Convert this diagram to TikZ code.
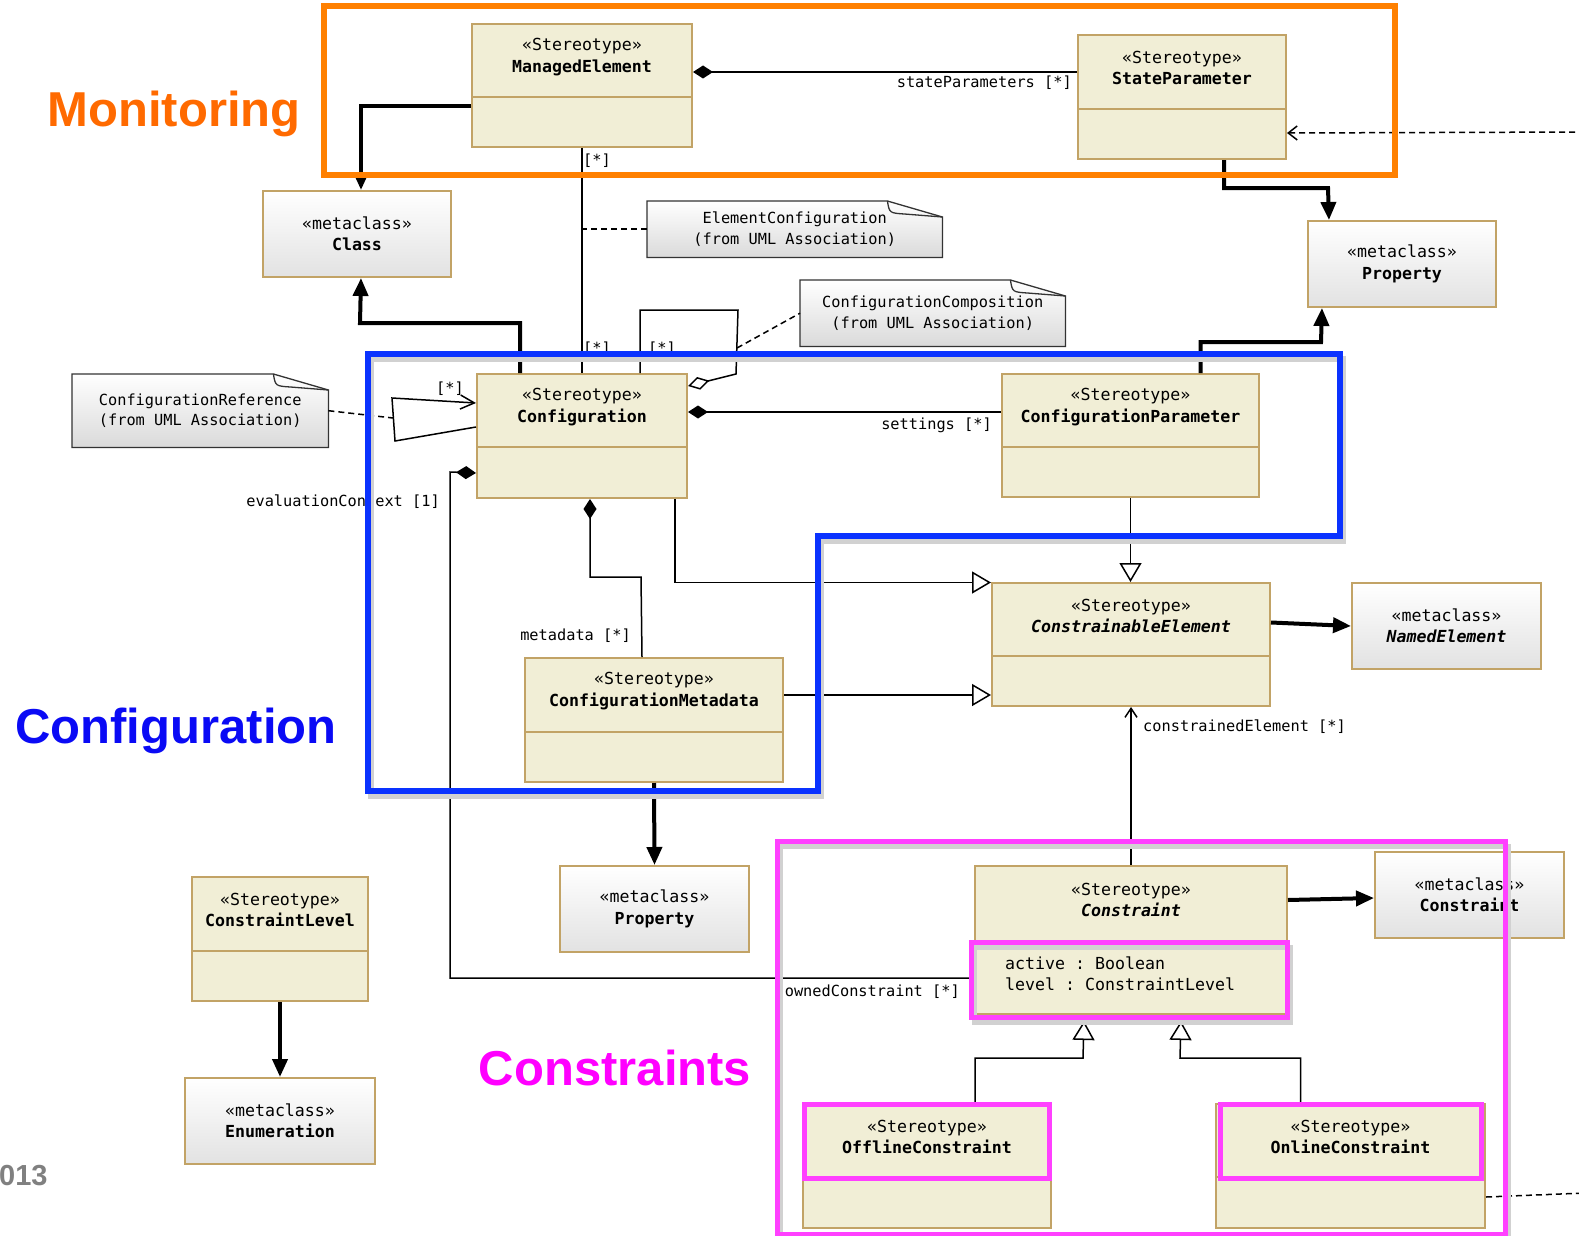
\documentclass[tikz,border=0pt]{standalone}
\usepackage{fontspec}
\setmainfont{Liberation Sans}
\setmonofont{DejaVu Sans Mono}
\usetikzlibrary{arrows.meta,backgrounds}
\definecolor{stfill}{HTML}{F1EED6}
\definecolor{boxline}{HTML}{C2A366}
\definecolor{metagray}{HTML}{E2E2E2}
\definecolor{notegray}{HTML}{DADADA}
\definecolor{monorange}{HTML}{FF8000}
\definecolor{montext}{HTML}{FF6A00}
\definecolor{cfgblue}{HTML}{0A32FF}
\definecolor{cfgtext}{HTML}{0A0AF5}
\definecolor{conmag}{HTML}{FF40FF}
\definecolor{context}{HTML}{FF00FF}
\newcommand{\umlfont}{\fontsize{16.6}{21.5}\selectfont\ttfamily}
\newcommand{\lblfont}{\fontsize{15.3}{20.5}\selectfont\ttfamily}

\begin{document}
\begin{tikzpicture}[x=1pt,y=-1pt,
  stereo/.style={draw=boxline,fill=stfill,line width=2pt,inner sep=0pt,anchor=north west},
  meta/.style={draw=boxline,top color=white,bottom color=metagray,line width=2pt,inner sep=0pt,anchor=north west,font=\umlfont,align=center},
  div/.style={draw=boxline,line width=2pt},
  boxtxt/.style={font=\umlfont,align=center,inner sep=0pt},
  notetxt/.style={font=\lblfont,align=center,inner sep=0pt,anchor=north west},
  notebox/.style={draw=black!80,line width=1.3pt,top color=white,bottom color=notegray},
  lbl/.style={font=\lblfont,inner sep=0pt},
  conn/.style={line width=1.5pt},
  metaarrow/.style={line width=4pt,-{Triangle[length=18pt,width=15pt]}},
  compo/.style={conn,{Diamond[length=20pt,width=13pt]}-},
  aggr/.style={conn,-{Diamond[length=22pt,width=13pt,fill=white]}},
  gen/.style={conn,-{Triangle[length=19pt,width=22pt,fill=white]}},
  nav/.style={conn,-{Straight Barb[length=9pt,width=12pt]}},
  notelink/.style={conn,dash pattern=on 6pt off 4pt},
  dep/.style={notelink,-{Straight Barb[length=9pt,width=14pt]}},
  frame/.style={line width=6pt,line join=miter},
  shade/.style={line width=6pt,draw=black!18,shift={(3,5)}},
  title/.style={font=\fontsize{49}{53}\selectfont\bfseries,inner sep=0pt,anchor=base}]
\useasboundingbox (0,0) rectangle (1579,1236);

% notes
\node[notetxt,minimum width=295pt,minimum height=56pt] (nelem) at (647,201) {ElementConfiguration\\(from UML Association)};
\node[notetxt,minimum width=265pt,minimum height=66pt] (ncomp) at (800,280) {ConfigurationComposition\\(from UML Association)};
\node[notetxt,minimum width=256pt,minimum height=73pt] (nref) at (72,374) {ConfigurationReference\\(from UML Association)};
\begin{scope}[on background layer]
\fill[white] (0,0) rectangle (1579,1236);
\foreach \n in {nelem,ncomp,nref} {
  \draw[notebox] (\n.south west) -- (\n.north west) -- ([xshift=-55pt]\n.north east) -- ([yshift=-16pt]\n.north east) -- (\n.south east) -- cycle;
  \draw[line width=1.3pt,black!80] ([xshift=-55pt]\n.north east) .. controls ([xshift=-53pt,yshift=-12pt]\n.north east) .. ([xshift=-38pt,yshift=-13pt]\n.north east) -- ([yshift=-16pt]\n.north east);
}
\end{scope}

% stereotypes
\node[stereo,minimum width=220pt,minimum height=123pt] (me) at (471,23) {};
\draw[div] ([yshift=-74pt]me.north west) -- ([yshift=-74pt]me.north east);
\node[boxtxt] (me-t) at ([yshift=-34pt]me.north) {«Stereotype»\\\textbf{ManagedElement}};
\node[stereo,minimum width=208pt,minimum height=124pt] (sp) at (1077,34) {};
\draw[div] ([yshift=-75pt]sp.north west) -- ([yshift=-75pt]sp.north east);
\node[boxtxt] (sp-t) at ([yshift=-34pt]sp.north) {«Stereotype»\\\textbf{StateParameter}};
\node[stereo,minimum width=210pt,minimum height=124pt] (cfg) at (476,373) {};
\draw[div] ([yshift=-74pt]cfg.north west) -- ([yshift=-74pt]cfg.north east);
\node[boxtxt] (cfg-t) at ([yshift=-34pt]cfg.north) {«Stereotype»\\\textbf{Configuration}};
\node[stereo,minimum width=257pt,minimum height=123pt] (cpar) at (1001,373) {};
\draw[div] ([yshift=-74pt]cpar.north west) -- ([yshift=-74pt]cpar.north east);
\node[boxtxt] (cpar-t) at ([yshift=-34pt]cpar.north) {«Stereotype»\\\textbf{ConfigurationParameter}};
\node[stereo,minimum width=278pt,minimum height=123pt] (cel) at (991,582) {};
\draw[div] ([yshift=-74pt]cel.north west) -- ([yshift=-74pt]cel.north east);
\node[boxtxt] (cel-t) at ([yshift=-34pt]cel.north) {«Stereotype»\\\textbf{\textit{ConstrainableElement}}};
\node[stereo,minimum width=258pt,minimum height=124pt] (mdata) at (524,657) {};
\draw[div] ([yshift=-75pt]mdata.north west) -- ([yshift=-75pt]mdata.north east);
\node[boxtxt] (mdata-t) at ([yshift=-34pt]mdata.north) {«Stereotype»\\\textbf{ConfigurationMetadata}};
\node[stereo,minimum width=176pt,minimum height=124pt] (clevel) at (191,876) {};
\draw[div] ([yshift=-75pt]clevel.north west) -- ([yshift=-75pt]clevel.north east);
\node[boxtxt] (clevel-t) at ([yshift=-34pt]clevel.north) {«Stereotype»\\\textbf{ConstraintLevel}};
\node[stereo,minimum width=312pt,minimum height=148pt] (cons) at (974,865) {};
\draw[div] ([yshift=-76pt]cons.north west) -- ([yshift=-76pt]cons.north east);
\node[boxtxt] (cons-t) at ([yshift=-35pt]cons.north) {«Stereotype»\\\textbf{\textit{Constraint}}};
\node[boxtxt,align=left,anchor=west] (cons-a) at (1005,974) {active : Boolean\\level : ConstraintLevel};
\node[stereo,minimum width=248pt,minimum height=124pt] (off) at (802,1103) {};
\draw[div] ([yshift=-74pt]off.north west) -- ([yshift=-74pt]off.north east);
\node[boxtxt] (off-t) at ([yshift=-34pt]off.north) {«Stereotype»\\\textbf{OfflineConstraint}};
\node[stereo,minimum width=269pt,minimum height=124pt] (on) at (1215,1103) {};
\draw[div] ([yshift=-74pt]on.north west) -- ([yshift=-74pt]on.north east);
\node[boxtxt] (on-t) at ([yshift=-34pt]on.north) {«Stereotype»\\\textbf{OnlineConstraint}};

% metaclasses
\node[meta,minimum width=188pt,minimum height=86pt] (cls) at (262,190) {«metaclass»\\\textbf{Class}};
\node[meta,minimum width=188pt,minimum height=86pt] (prop1) at (1307,220) {«metaclass»\\\textbf{Property}};
\node[meta,minimum width=189pt,minimum height=86pt] (named) at (1351,582) {«metaclass»\\\textbf{\textit{NamedElement}}};
\node[meta,minimum width=189pt,minimum height=86pt] (prop2) at (559,865) {«metaclass»\\\textbf{Property}};
\node[meta,minimum width=190pt,minimum height=86pt] (enum) at (184,1077) {«metaclass»\\\textbf{Enumeration}};
\node[meta,minimum width=189pt,minimum height=86pt] (mcons) at (1374,851) {«metaclass»\\\textbf{Constraint}};

% connectors
\draw[metaarrow] ([yshift=-21pt]me.west) -| ([xshift=4pt]cls.north);
\draw[compo] ([yshift=13.5pt]me.east) coordinate (me-r) -- (me-r -| sp.west);
\node[lbl,anchor=north east] (l-state) at (1072,76) {stateParameters [*]};
\draw[conn] (me.south) -- (cfg.north);
\node[lbl,anchor=west] (l-me1) at (583,161) {[*]};
\node[lbl,anchor=west] (l-me2) at (583,349) {[*]};
\draw[notelink] (nelem.west) -- (nelem.west -| me.south);
\draw[aggr] ([xshift=58pt]cfg.north) |- (738,310) -- (736,374) -- ([yshift=-13pt]cfg.north east);
\node[lbl,anchor=west] (l-self) at (648,349) {[*]};
\draw[notelink] (737,348) -- (ncomp.west);
\draw[metaarrow] ([xshift=-62pt]cfg.north) |- (360,323) -- ([xshift=4pt]cls.south);
\draw[nav,-{Straight Barb[length=14pt,width=14pt]}] ([yshift=-54pt]cfg.north west) -- (395,441) -- (392,398) -- ([yshift=-30pt]cfg.north west);
\node[lbl] (l-ref) at (450,389) {[*]};
\draw[notelink] (nref.east) -- (393,418);
\draw[compo] ([yshift=24pt]cfg.east) coordinate (cfg-r) -- (cfg-r -| cpar.west);
\node[lbl,anchor=east] (l-set) at (992,425) {settings [*]};
\draw[compo] ([yshift=-37pt]cfg.west) -- (450,472) |- ([yshift=-38pt]cons.west);
\node[lbl,anchor=east] (l-eval) at (440,502) {evaluationContext [1]};
\node[lbl,anchor=east] (l-own) at (960,992) {ownedConstraint [*]};
\draw[compo] ([xshift=8pt]cfg.south) |- (641,577) -- ([xshift=-12pt]mdata.north);
\node[lbl,anchor=east] (l-meta) at (631,636) {metadata [*]};
\draw[gen] ([xshift=93pt]cfg.south) |- ([yshift=62pt]cel.west);
\draw[gen] ([yshift=25pt]mdata.east) coordinate (md-r) -- (md-r -| cel.west);
\draw[gen] (cpar.south) -- (cpar.south |- cel.north);
\draw[metaarrow] ([yshift=22pt]cel.east) -- (named.west);
\draw[nav] (cons.north) -- (cel.south);
\node[lbl,anchor=west] (l-celem) at (1143,727) {constrainedElement [*]};
\draw[metaarrow] ([yshift=40pt]cons.east) -- ([yshift=-3pt]mcons.west);
\draw[gen] ([xshift=48pt]off.north) |- (1083,1058) -- ([xshift=-47pt,yshift=-6pt]cons.south);
\draw[gen] ([xshift=-50pt]on.north) |- (1180,1058) -- ([xshift=50pt,yshift=-6pt]cons.south);
\draw[metaarrow] (mdata.south) -- (prop2.north);
\draw[metaarrow] (clevel.south) -- (enum.north);
\draw[metaarrow] ([xshift=42pt]sp.south) |- (1328,188) -- ([xshift=-73pt]prop1.north);
\draw[metaarrow] ([xshift=70pt]cpar.north) |- (1321,342) -- ([xshift=-80pt]prop1.south);
\coordinate (offr1) at (1585,132);
\coordinate (offr2) at (1585,1193);
\draw[dep] (offr1) -- ([yshift=-36pt]sp.east);
\draw[notelink] ([yshift=-31pt]on.east) -- (offr2);

% frames
\draw[frame,draw=monorange] (324,6) rectangle (1395,175);
\draw[shade] (368,354) -- (1340,354) -- (1340,536) -- (818,536) -- (818,791) -- (368,791) -- cycle;
\draw[frame,draw=cfgblue] (368,354) -- (1340,354) -- (1340,536) -- (818,536) -- (818,791) -- (368,791) -- cycle;
\draw[shade,line width=5pt] (777,841) rectangle (1505,1234);
\draw[shade,line width=5pt] (971,942) rectangle (1287,1017);
\draw[frame,line width=5pt,draw=conmag] (777,841) rectangle (1505,1234);
\foreach \a/\b in {{971,942}/{1287,1017},{804,1104}/{1049,1178},{1220,1104}/{1481,1178}}
  \draw[frame,line width=5pt,draw=conmag] (\a) rectangle (\b);

% titles
\node[title,text=montext] (t-mon) at (174,127) {Monitoring};
\node[title,text=cfgtext] (t-cfg) at (176,743) {Configuration};
\node[title,text=context] (t-con) at (615,1085) {Constraints};
\node[font=\fontsize{29}{32}\selectfont\bfseries,text=black!50,inner sep=0pt,anchor=base west] (t-year) at (-1,1185) {013};
\end{tikzpicture}
\end{document}
